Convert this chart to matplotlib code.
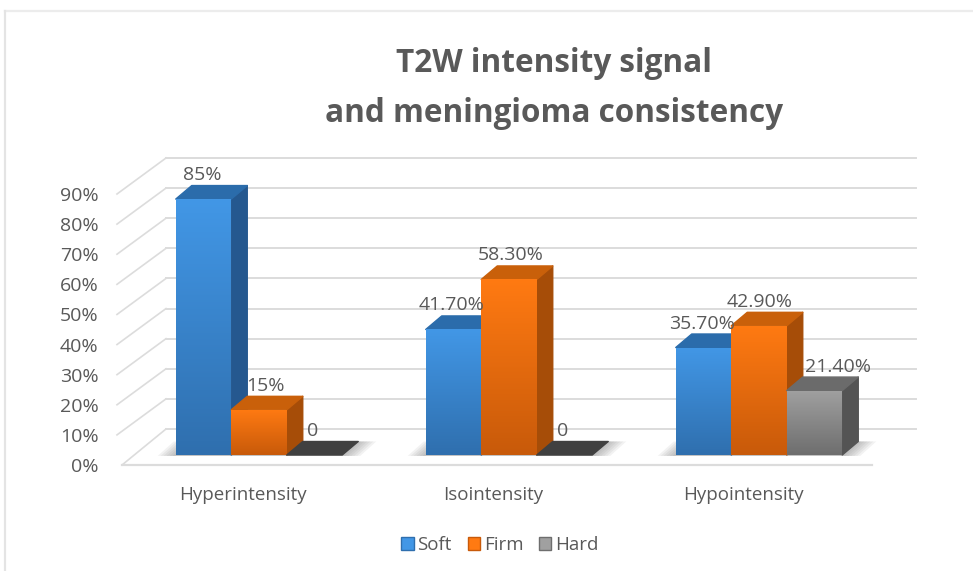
import numpy as np
import matplotlib
matplotlib.use("Agg")
import matplotlib.pyplot as plt
from matplotlib.lines import Line2D
from matplotlib.patches import Patch, Polygon
from matplotlib.colors import LinearSegmentedColormap

plt.rcParams["font.family"] = ["Open Sans", "DejaVu Sans"]

# data
categories = ["Hyperintensity", "Isointensity", "Hypointensity"]
series_names = ["Soft", "Firm", "Hard"]
soft = [85, 41.7, 35.7]
firm = [15, 58.3, 42.9]
hard = [0, 0, 21.4]
soft_labels = ["85%", "41.70%", "35.70%"]
firm_labels = ["15%", "58.30%", "42.90%"]
hard_labels = ["0", "0", "21.40%"]
y_ticks = [0, 10, 20, 30, 40, 50, 60, 70, 80, 90]

# colours: gradient top, gradient bottom, side, top face
soft_cols = ("#4297e6", "#2f6fae", "#25588f", "#2b6cab")
firm_cols = ("#ff7a12", "#c85a0a", "#a64d08", "#c9600a")
hard_cols = ("#a0a0a0", "#6e6e6e", "#545454", "#6b6b6b")
TEXT = "#595959"
GRID = "#dcdcdc"

# layout, pixels of the 973x571 picture
W, H = 973, 571
AX_L, AX_R, AX_BOT, AX_TOP = 122, 872, 465, 194
PX_CAT = (AX_R - AX_L) / 3
PX_PCT = (AX_BOT - AX_TOP) / 90
WALL_DX = 44 / PX_CAT
WALL_DY = 36 / PX_PCT
BAR_W = 55.5 / PX_CAT
FRONT_DX = 12 / PX_CAT
FRONT_DY = 10 / PX_PCT
DEPTH_DX = 16 / PX_CAT
DEPTH_DY = 13.5 / PX_PCT

fig = plt.figure(figsize=(W / 100, H / 100), dpi=100)
ax = fig.add_axes([AX_L / W, 1 - AX_BOT / H, (AX_R - AX_L) / W, (AX_BOT - AX_TOP) / H])
ax.patch.set_visible(False)
for s in ax.spines.values():
    s.set_visible(False)

# picture frame
fig.add_artist(Line2D([5 / W, 1], [1 - 11 / H] * 2, color="#ececec", lw=1.6))
fig.add_artist(Line2D([5 / W, 5 / W], [0, 1 - 11 / H], color="#e4e4e4", lw=1.6))

# back wall, side wall, floor
x0 = -0.5
x1 = 2.5
for t in y_ticks:
    ax.plot([x0 + WALL_DX, x1 + WALL_DX], [t + WALL_DY] * 2, color=GRID, lw=1.4,
            clip_on=False, zorder=1)
    ax.plot([x0 - 5 / PX_CAT if t else x0, x0 + WALL_DX], [t, t + WALL_DY], color=GRID, lw=1.2,
            clip_on=False, zorder=1)
ax.plot([x0, x1], [0, 0], color=GRID, lw=1.6, clip_on=False, zorder=1)

grad = np.linspace(0, 1, 128).reshape(-1, 1)


def face(ax, pts, color, z):
    ax.add_patch(Polygon(pts, closed=True, fc=color, ec=color, lw=1.0, joinstyle="round",
                         clip_on=False, zorder=z))


def draw_bar(ax, x, v, cols, z):
    left = x + FRONT_DX
    right = left + BAR_W
    base = FRONT_DY
    top = base + v
    if v == 0:
        face(ax, [(left, base), (right, base), (right + DEPTH_DX, base + DEPTH_DY),
                  (left + DEPTH_DX, base + DEPTH_DY)], "#404040", z)
        return
    face(ax, [(right, base), (right + DEPTH_DX, base + DEPTH_DY),
              (right + DEPTH_DX, top + DEPTH_DY), (right, top)], cols[2], z)
    face(ax, [(left, top), (right, top), (right + DEPTH_DX, top + DEPTH_DY),
              (left + DEPTH_DX, top + DEPTH_DY)], cols[3], z)
    cmap = LinearSegmentedColormap.from_list("g", [cols[0], cols[1]])
    im = ax.imshow(grad, cmap=cmap, extent=(left, right, base, top), aspect="auto",
                   origin="upper", zorder=z + 0.1)
    clip = Polygon([(left, base), (right, base), (right, top), (left, top)],
                   transform=ax.transData)
    im.set_clip_path(clip)


# floor shadows under each cluster
for i in range(3):
    g_left = i - 1.5 * BAR_W + FRONT_DX
    g_right = i + 1.5 * BAR_W + FRONT_DX
    for k in range(1, 7):
        e = k * 3 / PX_CAT
        ax.add_patch(Polygon([(g_left - e, FRONT_DY - 0.3), (g_right + e, FRONT_DY - 0.3),
                              (g_right + DEPTH_DX + e, FRONT_DY + DEPTH_DY),
                              (g_left + DEPTH_DX - e, FRONT_DY + DEPTH_DY)],
                             closed=True, fc="#707070", ec="none", alpha=0.09,
                             clip_on=False, zorder=1.5))

# bars, left to right so each one overlaps the side of the previous
values = [soft, firm, hard]
colors = [soft_cols, firm_cols, hard_cols]
labels = [soft_labels, firm_labels, hard_labels]
z = 3
for i in range(3):
    for j in range(3):
        x = i + (j - 1.5) * BAR_W
        draw_bar(ax, x, values[j][i], colors[j], z)
        z += 1

for i in range(3):
    for j in range(3):
        x = i + (j - 1) * BAR_W + FRONT_DX
        dx = {(0, 0): -1, (0, 1): 6, (0, 2): -2, (1, 0): -2, (1, 1): 2, (1, 2): -2,
              (2, 0): -2, (2, 1): 1, (2, 2): 23}[(i, j)]
        ax.annotate(labels[j][i], (x, FRONT_DY + values[j][i]), xytext=(dx * 0.72, 24 * 0.72),
                    textcoords="offset points", ha="center", va="center",
                    fontsize=14, color=TEXT, zorder=50, annotation_clip=False)

# axes
ax.set_xlim(x0, x1)
ax.set_ylim(0, 90)
ax.set_yticks(y_ticks)
ax.set_yticklabels([f"{t}%" for t in y_ticks], fontsize=14, color=TEXT)
ax.set_xticks([i - 4 / PX_CAT for i in range(3)])
ax.set_xticklabels(categories, fontsize=13.5, color=TEXT)
ax.tick_params(axis="y", length=0, pad=17)
ax.tick_params(axis="x", length=0, pad=15)

fig.text(554 / W, 1 - 89 / H, "T2W intensity signal\nand meningioma consistency",
         ha="center", va="center", fontsize=22.7, fontweight="bold", color=TEXT, linespacing=1.68)

handles = [Patch(fc=c[0], ec=c[1], lw=1.0, label=n)
           for c, n in zip(colors, series_names)]
fig.legend(handles=handles, loc="center", bbox_to_anchor=(500 / W, 1 - 545 / H), ncol=3,
           frameon=False, fontsize=13.5, labelcolor=TEXT, handlelength=0.65, handleheight=0.65,
           handletextpad=0.2, columnspacing=0.85)

fig.savefig("out.png", dpi=100)
